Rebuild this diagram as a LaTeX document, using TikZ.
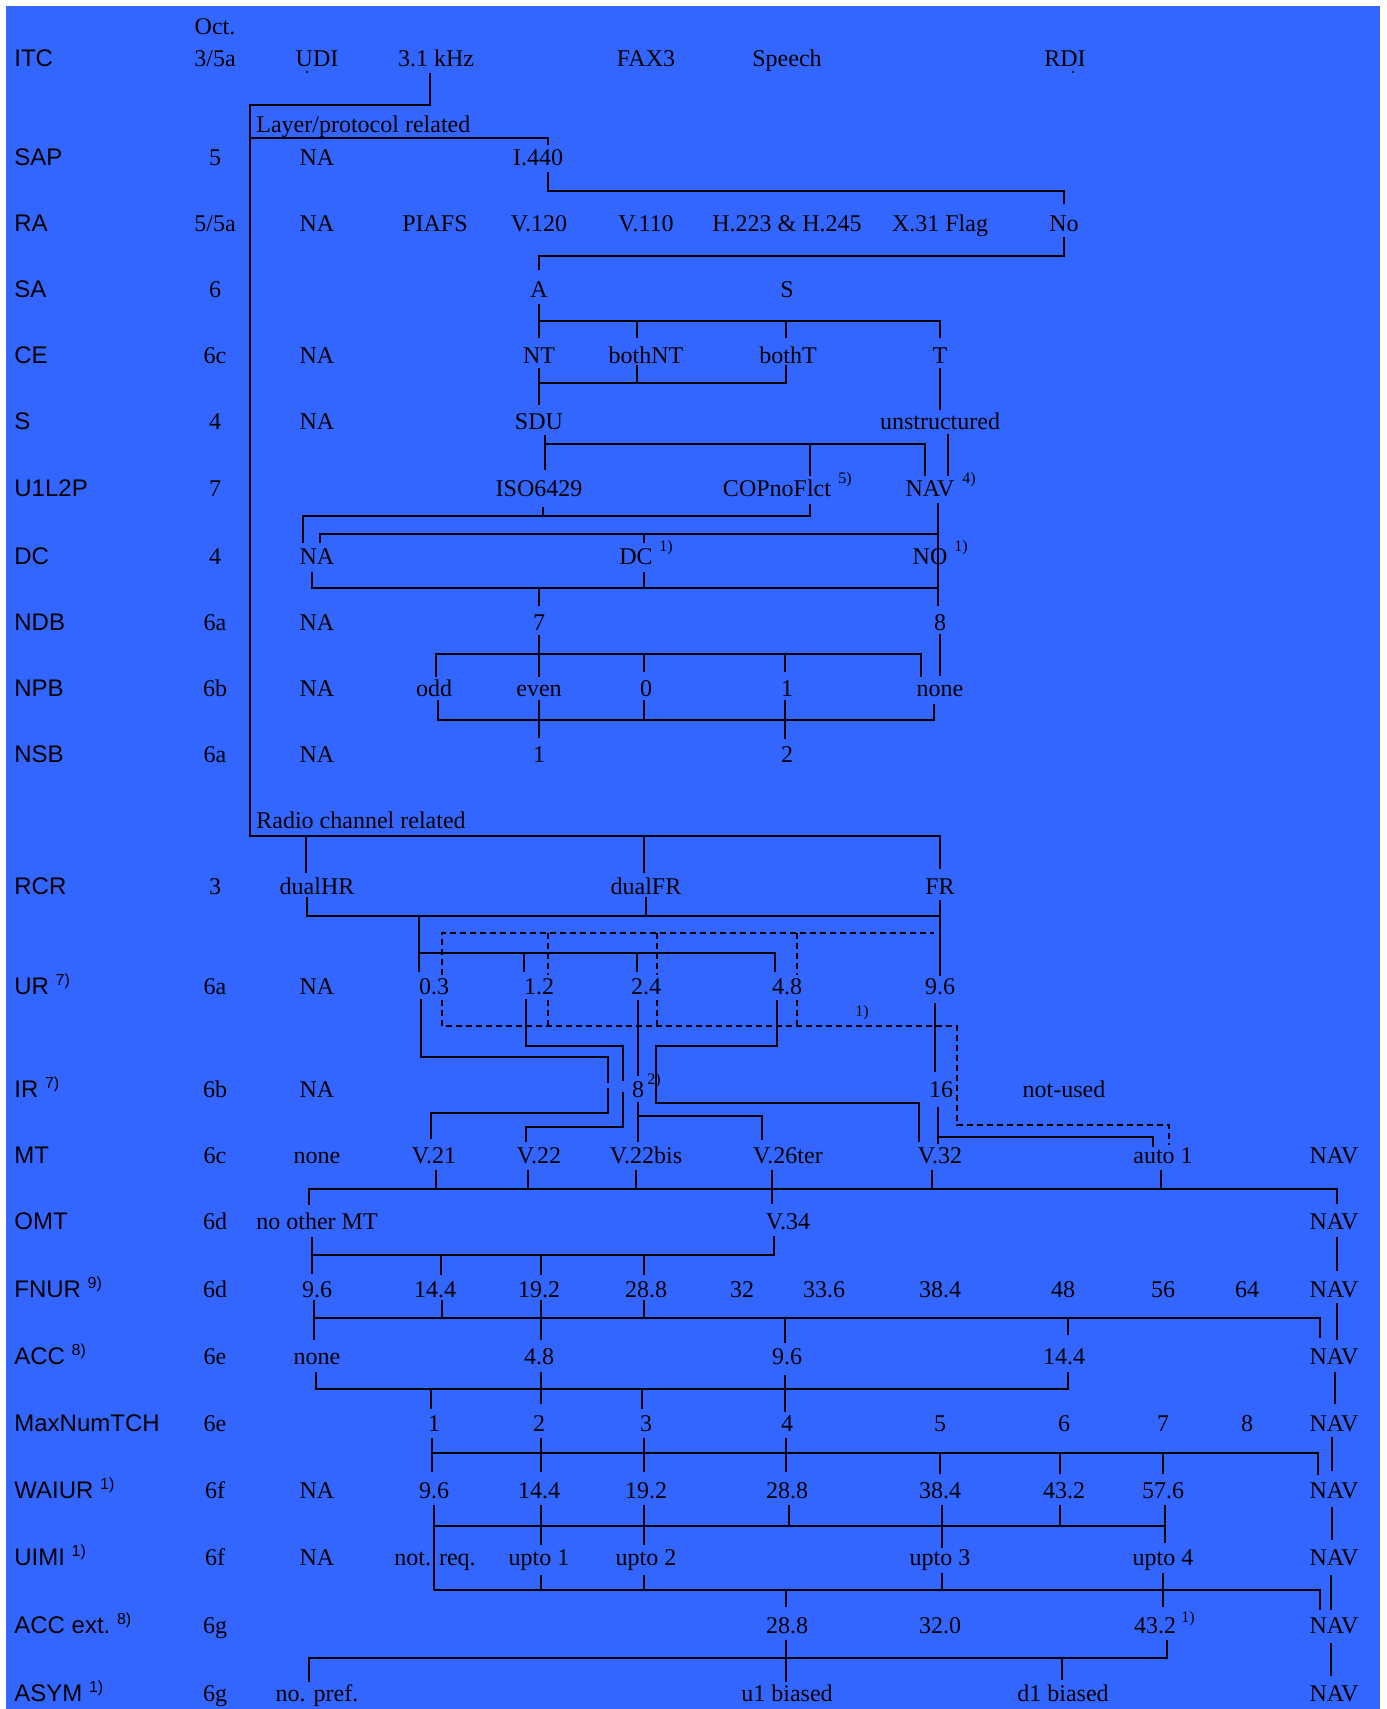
\documentclass[tikz,border=0pt]{standalone}
\usepackage{fontspec}
\setmainfont{Liberation Serif}
\setsansfont{Liberation Sans}
\definecolor{bg}{HTML}{3366FF}

\tikzset{
  lbl/.style={anchor=base west, inner sep=0pt, font=\sffamily\fontsize{12}{14}\selectfont},
  val/.style={anchor=base, inner sep=0pt, font=\fontsize{12}{14}\selectfont},
  fn/.style={inner sep=0pt, font=\fontsize{8}{9}\selectfont},
  wire/.style={line width=1pt},
  dwire/.style={line width=1pt, dash pattern=on 3pt off 2pt}
}

\begin{document}
\begin{tikzpicture}[x=0.5pt, y=-0.5pt]
  \useasboundingbox (0,0) rectangle (1387,1709);
  \fill[white] (0,0) rectangle (1387,1709);
  \fill[bg] (6,6) rectangle (1380,1709);

  % Parameter names and octets
  \node[val] (oct) at (215,34) {Oct.};
  \foreach \nm/\txt/\oc/\y in {itc/ITC/{3/5a}/66, sap/SAP/5/165, ra/RA/{5/5a}/231,
      sa/SA/6/297, ce/CE/6c/363, s/S/4/429, ulp/U1L2P/7/496, dc/DC/4/564,
      ndb/NDB/6a/630, npb/NPB/6b/696, nsb/NSB/6a/762, rcr/RCR/3/894,
      ur/{UR \textsuperscript{7)}}/6a/994, ir/{IR \textsuperscript{7)}}/6b/1097,
      mt/MT/6c/1163, omt/OMT/6d/1229, fnur/{FNUR \textsuperscript{9)}}/6d/1297,
      acc/{ACC \textsuperscript{8)}}/6e/1364, mnt/MaxNumTCH/6e/1431,
      waiur/{WAIUR \textsuperscript{1)}}/6f/1498, uimi/{UIMI \textsuperscript{1)}}/6f/1565,
      acce/{ACC ext.\ \textsuperscript{8)}}/6g/1633, asym/{ASYM \textsuperscript{1)}}/6g/1701}{
    \node[lbl] (\nm) at (14,\y) {\txt};
    \node[val] (\nm-oct) at (215,\y) {\oc};
  }

  % Section headings
  \node[val, anchor=base west] (layer) at (256,132) {Layer/protocol related};
  \node[val, anchor=base west] (radio) at (256,828) {Radio channel related};

  % Values
  \foreach \x/\t [count=\i] in {317/UDI, 436/{3.1 kHz}, 646/FAX3, 787/Speech, 1065/RDI}
    \node[val] (itc-\i) at (\x,66) {\t};
  \foreach \x/\t [count=\i] in {317/NA, 538/I.440}
    \node[val] (sap-\i) at (\x,165) {\t};
  \foreach \x/\t [count=\i] in {317/NA, 435/PIAFS, 539/V.120, 646/V.110,
      787/{H.223 \& H.245}, 940/{X.31 Flag}, 1064/No}
    \node[val] (ra-\i) at (\x,231) {\t};
  \foreach \x/\t [count=\i] in {539/A, 787/S}
    \node[val] (sa-\i) at (\x,297) {\t};
  \foreach \x/\t [count=\i] in {317/NA, 539/NT, 646/bothNT, 788/bothT, 940/T}
    \node[val] (ce-\i) at (\x,363) {\t};
  \foreach \x/\t [count=\i] in {317/NA, 539/SDU, 940/unstructured}
    \node[val] (s-\i) at (\x,429) {\t};
  \foreach \x/\t [count=\i] in {539/ISO6429, 777/COPnoFlct, 930/NAV}
    \node[val] (ulp-\i) at (\x,496) {\t};
  \foreach \x/\t [count=\i] in {317/NA, 636/DC, 930/NO}
    \node[val] (dc-\i) at (\x,564) {\t};
  \foreach \x/\t [count=\i] in {317/NA, 539/7, 940/8}
    \node[val] (ndb-\i) at (\x,630) {\t};
  \foreach \x/\t [count=\i] in {317/NA, 434/odd, 539/even, 646/0, 787/1, 940/none}
    \node[val] (npb-\i) at (\x,696) {\t};
  \foreach \x/\t [count=\i] in {317/NA, 539/1, 787/2}
    \node[val] (nsb-\i) at (\x,762) {\t};
  \foreach \x/\t [count=\i] in {317/dualHR, 646/dualFR, 940/FR}
    \node[val] (rcr-\i) at (\x,894) {\t};
  \foreach \x/\t [count=\i] in {317/NA, 434/0.3, 539/1.2, 646/2.4, 787/4.8, 940/9.6}
    \node[val] (ur-\i) at (\x,994) {\t};
  \foreach \x/\t [count=\i] in {317/NA, 638/8, 941/16, 1064/not-used}
    \node[val] (ir-\i) at (\x,1097) {\t};
  \foreach \x/\t [count=\i] in {317/none, 434/V.21, 539/V.22, 646/V.22bis,
      788/V.26ter, 940/V.32, 1163/auto 1, 1334/NAV}
    \node[val] (mt-\i) at (\x,1163) {\t};
  \foreach \x/\t [count=\i] in {317/no other MT, 788/V.34, 1334/NAV}
    \node[val] (omt-\i) at (\x,1229) {\t};
  \foreach \x/\t [count=\i] in {317/9.6, 435/14.4, 539/19.2, 646/28.8, 742/32, 824/33.6,
      940/38.4, 1063/48, 1163/56, 1247/64, 1334/NAV}
    \node[val] (fnur-\i) at (\x,1297) {\t};
  \foreach \x/\t [count=\i] in {317/none, 539/4.8, 787/9.6, 1064/14.4, 1334/NAV}
    \node[val] (acc-\i) at (\x,1364) {\t};
  \foreach \x/\t [count=\i] in {434/1, 539/2, 646/3, 787/4, 940/5, 1064/6, 1163/7,
      1247/8, 1334/NAV}
    \node[val] (mnt-\i) at (\x,1431) {\t};
  \foreach \x/\t [count=\i] in {317/NA, 434/9.6, 539/14.4, 646/19.2, 787/28.8, 940/38.4,
      1064/43.2, 1163/57.6, 1334/NAV}
    \node[val] (waiur-\i) at (\x,1498) {\t};
  \foreach \x/\t [count=\i] in {317/NA, 435/not. req., 539/upto 1, 646/upto 2,
      940/upto 3, 1163/upto 4, 1334/NAV}
    \node[val] (uimi-\i) at (\x,1565) {\t};
  \foreach \x/\t [count=\i] in {787/28.8, 940/32.0, 1155/43.2, 1334/NAV}
    \node[val] (acce-\i) at (\x,1633) {\t};
  \foreach \x/\t [count=\i] in {317/no. pref., 787/u1 biased, 1063/d1 biased, 1334/NAV}
    \node[val] (asym-\i) at (\x,1701) {\t};

  % Footnote marks
  \node[fn] (fn-cop) at (845,480) {5)};
  \node[fn] (fn-nav) at (969,480) {4)};
  \node[fn] (fn-dc) at (666,548) {1)};
  \node[fn] (fn-no) at (961,548) {1)};
  \node[fn] (fn-ir) at (654,1081) {2)};
  \node[fn] (fn-dash) at (862,1013) {1)};
  \node[fn] (fn-acce) at (1188,1619) {1)};

  % small marks under UDI and RDI
  \fill (307,72) circle (1.2);
  \fill (1073,72) circle (1.2);

  % Layer/protocol related
  \draw[wire] (430,73) -- (430,105) -- (250,105) -- (250,836) -- (940,836) -- (940,869);
  \draw[wire] (250,138) -- (548,138) -- (548,145);
  \draw[wire] (548,172) -- (548,191) -- (1064,191) -- (1064,204);
  \draw[wire] (1064,237) -- (1064,256) -- (539,256) -- (539,270);

  % SA -> CE -> S
  \draw[wire] (539,304) -- (539,338);
  \draw[wire] (539,321) -- (940,321) -- (940,338);
  \foreach \x in {637,786} \draw[wire] (\x,321) -- (\x,338);
  \draw[wire] (539,368) -- (539,405);
  \draw[wire] (539,383) -- (786,383) -- (786,365);
  \draw[wire] (637,365) -- (637,383);
  \draw[wire] (940,368) -- (940,410);

  % S -> U1L2P -> DC
  \draw[wire] (545,435) -- (545,470);
  \draw[wire] (545,444) -- (925,444) -- (925,476);
  \draw[wire] (810,444) -- (810,476);
  \draw[wire] (948,434) -- (948,476);
  \draw[wire] (543,507) -- (543,516);
  \draw[wire] (810,504) -- (810,516) -- (303,516) -- (303,543);
  \draw[wire] (938,503) -- (938,606);
  \draw[wire] (938,534) -- (320,534) -- (320,543);
  \draw[wire] (644,534) -- (644,543);

  % DC -> NDB -> NPB -> NSB
  \draw[wire] (312,572) -- (312,588) -- (938,588);
  \draw[wire] (644,572) -- (644,588);
  \draw[wire] (539,588) -- (539,606);
  \draw[wire] (539,635) -- (539,677);
  \draw[wire] (436,677) -- (436,654) -- (921,654) -- (921,677);
  \foreach \x in {644,785} \draw[wire] (\x,654) -- (\x,672);
  \draw[wire] (940,634) -- (940,676);
  \draw[wire] (438,700) -- (438,720) -- (934,720) -- (934,704);
  \draw[wire] (644,700) -- (644,720);
  \draw[wire] (539,700) -- (539,738);
  \draw[wire] (785,700) -- (785,739);

  % Radio channel related
  \foreach \x in {306,644} \draw[wire] (\x,836) -- (\x,873);
  \draw[wire] (307,897) -- (307,916) -- (940,916);
  \draw[wire] (646,897) -- (646,916);
  \draw[wire] (940,900) -- (940,976);

  % RCR -> UR
  \draw[wire] (419,916) -- (419,972);
  \draw[wire] (419,953) -- (775,953) -- (775,972);
  \foreach \x in {524,637} \draw[wire] (\x,953) -- (\x,972);

  % dashed paths
  \draw[dwire] (442,975) -- (442,933) -- (934,933);
  \foreach \x in {548,657,797} \draw[dwire] (\x,933) -- (\x,975);
  \draw[dwire] (442,1000) -- (442,1026) -- (957,1026) -- (957,1125) -- (1169,1125) -- (1169,1145);
  \foreach \x in {548,657,797} \draw[dwire] (\x,1000) -- (\x,1026);

  % UR -> IR -> MT
  \draw[wire] (421,999) -- (421,1057) -- (608,1057) -- (608,1083);
  \draw[wire] (608,1088) -- (608,1113) -- (431,1113) -- (431,1139);
  \draw[wire] (526,999) -- (526,1046) -- (623,1046) -- (623,1081);
  \draw[wire] (623,1092) -- (623,1127) -- (526,1127) -- (526,1142);
  \draw[wire] (638,1000) -- (638,1076);
  \draw[wire] (638,1102) -- (638,1142);
  \draw[wire] (638,1116) -- (762,1116) -- (762,1140);
  \draw[wire] (777,1000) -- (777,1046) -- (656,1046) -- (656,1103) -- (919,1103) -- (919,1142);
  \draw[wire] (935,1003) -- (935,1072);
  \draw[wire] (938,1107) -- (938,1144);
  \draw[wire] (938,1137) -- (1153,1137) -- (1153,1147);

  % MT -> OMT
  \draw[wire] (309,1205) -- (309,1189) -- (1337,1189) -- (1337,1204);
  \foreach \x in {436,528,636,932,1161} \draw[wire] (\x,1170) -- (\x,1189);
  \draw[wire] (772,1170) -- (772,1204);

  % OMT -> FNUR
  \draw[wire] (1337,1237) -- (1337,1271);
  \draw[wire] (312,1237) -- (312,1274);
  \draw[wire] (312,1255) -- (774,1255) -- (774,1236);
  \foreach \x in {441,541,644} \draw[wire] (\x,1255) -- (\x,1275);

  % FNUR -> ACC
  \draw[wire] (314,1300) -- (314,1340);
  \draw[wire] (314,1318) -- (1320,1318) -- (1320,1338);
  \foreach \x in {442,644} \draw[wire] (\x,1300) -- (\x,1318);
  \draw[wire] (541,1300) -- (541,1340);
  \draw[wire] (785,1318) -- (785,1343);
  \draw[wire] (1068,1318) -- (1068,1335);
  \draw[wire] (1337,1303) -- (1337,1340);

  % ACC -> MaxNumTCH
  \draw[wire] (316,1372) -- (316,1389) -- (1068,1389) -- (1068,1372);
  \draw[wire] (541,1372) -- (541,1404);
  \foreach \x in {431,642} \draw[wire] (\x,1389) -- (\x,1409);
  \draw[wire] (785,1375) -- (785,1412);
  \draw[wire] (1335,1372) -- (1335,1404);

  % MaxNumTCH -> WAIUR
  \draw[wire] (432,1453) -- (1318,1453) -- (1318,1475);
  \foreach \x in {432,541,644,786} \draw[wire] (\x,1438) -- (\x,1472);
  \foreach \x in {940,1060,1163} \draw[wire] (\x,1453) -- (\x,1474);
  \draw[wire] (1332,1437) -- (1332,1471);

  % WAIUR -> UIMI
  \draw[wire] (434,1526) -- (1165,1526);
  \draw[wire] (434,1505) -- (434,1590);
  \foreach \x in {541,644} \draw[wire] (\x,1505) -- (\x,1545);
  \foreach \x in {789,1060} \draw[wire] (\x,1505) -- (\x,1526);
  \draw[wire] (942,1505) -- (942,1548);
  \draw[wire] (1165,1505) -- (1165,1543);
  \draw[wire] (1332,1507) -- (1332,1540);

  % UIMI -> ACC ext.
  \draw[wire] (434,1590) -- (1320,1590) -- (1320,1610);
  \foreach \x in {541,644} \draw[wire] (\x,1575) -- (\x,1590);
  \draw[wire] (942,1573) -- (942,1590);
  \draw[wire] (1163,1573) -- (1163,1607);
  \draw[wire] (786,1590) -- (786,1607);
  \draw[wire] (1331,1575) -- (1331,1610);

  % ACC ext. -> ASYM
  \draw[wire] (309,1682) -- (309,1658) -- (1167,1658) -- (1167,1640);
  \draw[wire] (786,1640) -- (786,1682);
  \draw[wire] (1062,1658) -- (1062,1680);
  \draw[wire] (1331,1643) -- (1331,1676);
\end{tikzpicture}
\end{document}
